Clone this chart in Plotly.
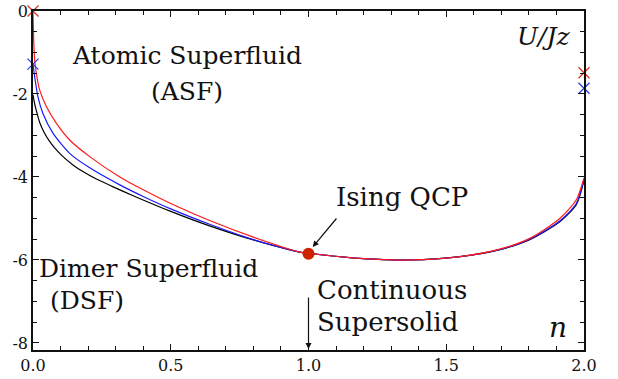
import plotly.graph_objects as go

# ---- data ----
n_red = [0.0, 0.003, 0.006, 0.012, 0.024, 0.049, 0.085, 0.133, 0.206, 0.315, 0.4, 0.5, 0.641, 0.8, 0.968, 1.0,
         1.2, 1.368, 1.55, 1.694, 1.803, 1.912, 1.972, 2.0]
u_red = [0.0, -0.8, -1.18, -1.50, -1.90, -2.31, -2.71, -3.11, -3.51, -4.0, -4.31, -4.64, -5.05, -5.45, -5.81, -5.84,
         -5.97, -6.0, -5.92, -5.74, -5.48, -5.0, -4.55, -4.02]

n_blue = [0.0, 0.006, 0.018, 0.036, 0.073, 0.133, 0.206, 0.315, 0.4, 0.5, 0.641, 0.8, 0.968, 1.0,
          1.2, 1.368, 1.55, 1.694, 1.803, 1.912, 1.972, 2.0]
u_blue = [-1.28, -1.58, -2.07, -2.47, -2.95, -3.43, -3.78, -4.19, -4.47, -4.77, -5.14, -5.51, -5.81, -5.84,
          -5.97, -6.0, -5.92, -5.75, -5.50, -5.06, -4.64, -4.06]

n_black = [0.0, 0.006, 0.012, 0.024, 0.04, 0.061, 0.08, 0.109, 0.145, 0.181, 0.23, 0.285, 0.37, 0.5, 0.641, 0.8,
           0.968, 1.0, 1.2, 1.368, 1.55, 1.694, 1.803, 1.912, 1.972, 2.0]
u_black = [-2.02, -2.24, -2.40, -2.68, -2.92, -3.15, -3.31, -3.51, -3.71, -3.87, -4.05, -4.22, -4.47, -4.83, -5.18, -5.52,
           -5.81, -5.84, -5.97, -6.0, -5.92, -5.75, -5.51, -5.08, -4.67, -4.08]

cross_red_n = [0.0, 2.0]
cross_red_u = [0.0, -1.49]
cross_blue_n = [0.0, 2.0]
cross_blue_u = [-1.28, -1.86]

qcp_n = [1.0]
qcp_u = [-5.85]

x_tickvals = [0.0, 0.5, 1.0, 1.5, 2.0]
x_ticktext = ["0.0", "0.5", "1.0", "1.5", "2.0"]
y_tickvals = [0, -2, -4, -6, -8]
y_ticktext = ["0", "-2", "-4", "-6", "-8"]

SERIF = "DejaVu Serif"

fig = go.Figure()
for xs, ys, col in [(n_black, u_black, "#000000"), (n_blue, u_blue, "#1a1aff"), (n_red, u_red, "#ff1a1a")]:
    fig.add_trace(go.Scatter(x=xs, y=ys, mode="lines", line=dict(color=col, width=1.2, shape="spline", smoothing=0.7),
                             hoverinfo="skip", showlegend=False))

fig.add_trace(go.Scatter(x=cross_red_n, y=cross_red_u, mode="markers", cliponaxis=False,
                         marker=dict(symbol="x-thin", size=11, line=dict(color="#d9381e", width=1.3)), showlegend=False))
fig.add_trace(go.Scatter(x=cross_blue_n, y=cross_blue_u, mode="markers", cliponaxis=False,
                         marker=dict(symbol="x-thin", size=11, line=dict(color="#2b3fe0", width=1.3)), showlegend=False))
fig.add_trace(go.Scatter(x=qcp_n, y=qcp_u, mode="markers", cliponaxis=False,
                         marker=dict(symbol="circle", size=12, color="#cc2200"), showlegend=False))

XR, YR = "x domain", "y domain"

def px(xp, yp):
    # convert page pixels to plot-area domain fractions
    return (xp - 33.3) / 551.0, (350 - yp) / 339.0

def txt(x, y, s, size=24, xanchor="center", italic=False):
    fig.add_annotation(x=x, y=y, xref=XR, yref=YR, text=s, showarrow=False,
                       xanchor=xanchor, yanchor="middle",
                       font=dict(family=SERIF, size=size, color="#111111",
                                 style="italic" if italic else "normal"))

for (xp, yp, s, anc, it, sz) in [
    (187, 55, "Atomic Superfluid", "center", False, 25),
    (187, 91, "(ASF)", "center", False, 25),
    (37, 268, "Dimer Superfluid", "left", False, 25),
    (87, 300, "(DSF)", "center", False, 25),
    (334, 197, "Ising QCP", "left", False, 26),
    (315, 290, "Continuous", "left", False, 26),
    (315, 322, "Supersolid", "left", False, 26),
    (544, 36, "U/Jz", "center", True, 25),
    (558, 327, "n", "center", True, 28),
]:
    a, b = px(xp, yp)
    txt(a, b, s, size=sz, xanchor=anc, italic=it)

# arrows
ax0, ay0 = px(338, 217)
ax1, ay1 = px(313, 247)
fig.add_annotation(x=ax1, y=ay1, ax=ax0, ay=ay0, xref=XR, yref=YR, axref=XR, ayref=YR,
                   text="", showarrow=True, arrowhead=2, arrowsize=1, arrowwidth=1.2, arrowcolor="#111111")
bx0, by0 = px(308.8, 296)
bx1, by1 = px(308.8, 349)
fig.add_annotation(x=bx1, y=by1, ax=bx0, ay=by0, xref=XR, yref=YR, axref=XR, ayref=YR,
                   text="", showarrow=True, arrowhead=2, arrowsize=1, arrowwidth=1.2, arrowcolor="#111111")

fig.update_layout(
    width=618, height=379, margin=dict(l=33, r=34, t=11, b=29, autoexpand=False),
    paper_bgcolor="white", plot_bgcolor="white",
    font=dict(family=SERIF, size=16, color="#111111"),
)
fig.update_xaxes(range=[0, 2], tickvals=x_tickvals, ticktext=x_ticktext, ticks="inside", ticklen=6, tickwidth=1,
                 tickcolor="#111111", showline=True, linecolor="#111111", linewidth=1.5, mirror="allticks",
                 showgrid=False, zeroline=False, automargin=False, ticklabeloverflow="allow",
                 tickfont=dict(family=SERIF, size=16),
                 minor=dict(dtick=0.1, ticks="inside", ticklen=4, tickcolor="#111111", showgrid=False))
fig.update_yaxes(range=[-8.17, 0], tickvals=y_tickvals, ticktext=y_ticktext, ticks="inside", ticklen=6, tickwidth=1,
                 tickcolor="#111111", showline=True, linecolor="#111111", linewidth=1.5, mirror="allticks",
                 showgrid=False, zeroline=False, automargin=False, ticklabeloverflow="allow",
                 tickfont=dict(family=SERIF, size=16),
                 minor=dict(dtick=0.5, ticks="inside", ticklen=4, tickcolor="#111111", showgrid=False))

fig.write_html("out.html", config={"displayModeBar": False},
               post_script="document.body.style.margin='0';")
